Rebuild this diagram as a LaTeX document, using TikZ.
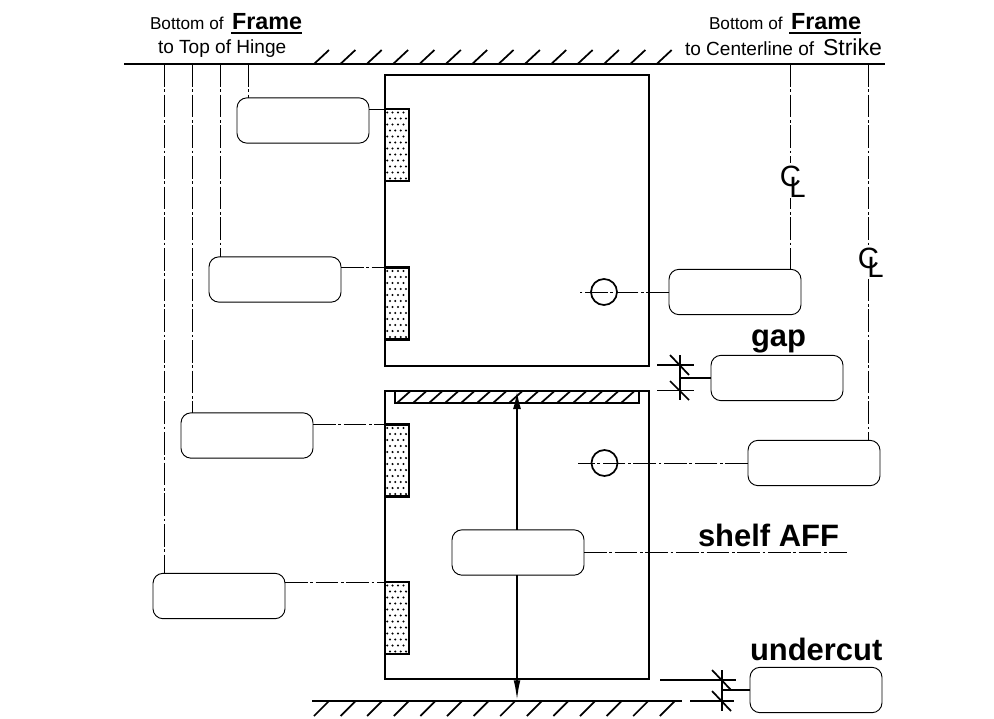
\documentclass[tikz,border=0pt]{standalone}
\usepackage{fontspec}
\setmainfont{Liberation Sans}
\usetikzlibrary{arrows.meta,calc}
\newcommand{\px}[1]{\fontsize{#1}{#1}\selectfont}
\tikzset{
  door/.style={draw=black,line width=1.9pt,fill=none,inner sep=0pt,outer sep=0pt,minimum width=198pt},
  hingebox/.style={draw=black,line width=1.6pt,inner sep=0pt,outer sep=0pt,minimum width=18pt,minimum height=54pt},
  tag/.style={draw=black,line width=0.7pt,rounded corners=7.5pt,inner sep=0pt,outer sep=0pt,fill=white,minimum width=99pt,minimum height=34pt},
  cl/.style={draw=black,line width=0.7pt,dash pattern=on 17pt off 2pt on 2pt off 2pt},
  thin line/.style={draw=black,line width=0.9pt},
  thick line/.style={draw=black,line width=1.6pt},
  hatch/.style={draw=black,line width=1.3pt},
  hole/.style={circle,draw=black,line width=1.3pt,minimum size=19.5pt,inner sep=0pt,outer sep=0pt},
  small/.style={inner sep=0pt,outer sep=0pt,anchor=base west,font=\px{14.3pt}},
  med/.style={inner sep=0pt,outer sep=0pt,anchor=base west,font=\px{12.9pt}},
  boldh/.style={inner sep=0pt,outer sep=0pt,anchor=base west,font=\px{17.5pt}\bfseries},
  big/.style={inner sep=0pt,outer sep=0pt,anchor=base west,font=\px{23.2pt}\bfseries},
  clmark/.style={inner sep=0pt,outer sep=0pt,font=\px{22pt}},
}
\begin{document}
\begin{tikzpicture}[x=0.75pt,y=-0.75pt]
\useasboundingbox[fill=white] (0,0) rectangle (994,718);

% ceiling and floor
\coordinate (topL) at (124,64); \coordinate (topR) at (885,64);
\draw[thick line] (topL) -- (topR);
\foreach \i in {0,...,13} \draw[hatch] ({314+\i*26.36},64) -- ++(15,-14);
\coordinate (floorL) at (312,701); \coordinate (floorR) at (682,701);
\draw[thick line] (floorL) -- (floorR);
\foreach \i in {0,...,13} \draw[hatch] ({329+\i*26.6},701) -- ++(-15,15);

% doors
\node[door,minimum height=218.25pt] (upper) at (517,220.5) {};
\node[door,minimum height=216pt] (lower) at (517,535) {};

% hinges
\foreach \n/\yc in {h1/145,h2/303.5,h3/460.5,h4/618}{
  \node[hingebox] (\n) at (397,\yc) {};
  \foreach \r in {0,...,11}{
    \pgfmathsetmacro{\off}{mod(\r,2)*2.7}
    \foreach \c in {0,1,2,3}{
      \fill[black] ({388.5+\c*5.4+\off-1.3},{\yc-32.5+\r*6}) circle (0.85pt);
    }
  }
}

% shelf
\node[draw=black,line width=1.6pt,inner sep=0pt,outer sep=0pt,minimum width=183pt,minimum height=9pt] (shelf) at (517,397) {};
\foreach \i in {0,...,14} \draw[hatch] ({397+\i*16},403) -- ++(13.5,-12);

% holes
\node[hole] (c1) at (604,292) {};
\node[hole] (c2) at (604.5,463) {};

% tags
\node[tag] (b1) at (303,120.5) {};
\node[tag] (b2) at (275,279.5) {};
\node[tag] (b3) at (247,435.5) {};
\node[tag] (b4) at (219,596) {};
\node[tag] (b5) at (735,292) {};
\node[tag] (b6) at (777,378) {};
\node[tag] (b7) at (814,463) {};
\node[tag] (b8) at (518,552.5) {};
\node[tag] (b9) at (816,690) {};

% centerlines from the frame line
\coordinate (v1) at (248.4,64); \coordinate (v2) at (220.4,64);
\coordinate (v3) at (192.4,64); \coordinate (v4) at (164.4,64);
\coordinate (v5) at (790.4,64); \coordinate (v6) at (868.4,64);
\draw[cl] (v1) -- (v1 |- b1.north);
\draw[cl] (v2) -- (v2 |- b2.north);
\draw[cl] (v3) -- (v3 |- b3.north);
\draw[cl] (v4) -- (v4 |- b4.north);
\draw[cl] (v5) -- (v5 |- b5.north);
\draw[cl] (v6) -- (v6 |- b7.north);

% leaders from tags to hinges
\draw[cl] (b1.east |- h1.north) -- (h1.north west);
\draw[cl] (b2.east |- h2.north) -- (h2.north west);
\draw[cl] (b3.east |- h3.north) -- (h3.north west);
\draw[cl] (b4.east |- h4.north) -- (h4.north west);

% leaders to holes
\coordinate (s1) at (579,292.4); \coordinate (s2) at (578,463.4);
\draw[cl] (b5.west |- s1) -- (s1);
\draw[cl] (b7.west |- s2) -- (s2);

% shelf height
\coordinate (sh) at (847,552.5);
\draw[cl] (b8.east) -- (sh);
\coordinate (ax) at (517,500);
\draw[line width=1.5pt,-{Latex[length=13.5pt,width=6pt]}] (b8.north -| ax) -- (shelf.north -| ax);
\draw[line width=1.5pt,-{Latex[length=15.5pt,width=5pt]}] (b8.south -| ax) -- (floorL -| ax);

% gap dimension
\coordinate (g1a) at (657,365); \coordinate (g1b) at (694,365);
\coordinate (g2a) at (657,390.5); \coordinate (g2b) at (694,390.5);
\coordinate (gt) at (680,355); \coordinate (gb) at (680,400);
\draw[thin line] (g1a) -- (g1b);
\draw[thin line] (g2a) -- (g2b);
\draw[thick line,line width=1.3pt] (gt) -- (gb);
\draw[thick line,line width=1.3pt] (670,355) -- (689,375);
\draw[thick line,line width=1.3pt] (670,381) -- (689,400);
\draw[thick line,line width=1.3pt] (b6.west) -- (b6.west -| gt);

% undercut dimension
\coordinate (u1a) at (660,680); \coordinate (u1b) at (736,680);
\coordinate (u2a) at (690,701); \coordinate (u2b) at (734,701);
\coordinate (ut) at (722,670); \coordinate (ub) at (722,711);
\draw[thin line] (u1a) -- (u1b);
\draw[thick line,line width=1.3pt] (u2a) -- (u2b);
\draw[thick line,line width=1.3pt] (ut) -- (ub);
\draw[thick line,line width=1.3pt] (712,670) -- (731,690);
\draw[thick line,line width=1.3pt] (712,691) -- (731,711);
\draw[thick line,line width=1.3pt] (b9.west) -- (b9.west -| ut);

% texts, left heading
\node[med] (t1) at (150,29) {Bottom of};
\node[boldh] (t2) at (232,29) {Frame};
\coordinate (ul1) at (231,33); \coordinate (ul2) at (302,33);
\draw[thick line,line width=1.3pt] (ul1) -- (ul2);
\node[small] (t3) at (158,53) {to Top of Hinge};
% right heading
\node[med] (t4) at (709,29) {Bottom of};
\node[boldh] (t5) at (791,29) {Frame};
\coordinate (ur1) at (789,33); \coordinate (ur2) at (861,33);
\draw[thick line,line width=1.3pt] (ur1) -- (ur2);
\node[small] (t6) at (685,55) {to Centerline of};
\node[small,font=\px{17.3pt}] (t7) at (823,55) {Strike};
% big labels
\node[big] (t8) at (751,346) {gap};
\node[big] (t9) at (698,546) {shelf AFF};
\node[big] (t10) at (750,660) {undercut};

% centerline marks
\fill[white] (786,163) rectangle (795,198);
\node[clmark] (m1) at (790.5,176.5) {C};
\node[clmark] (m1b) at (797.5,187) {L};
\fill[white] (864,246) rectangle (873,277);
\node[clmark] (m2) at (868.5,258) {C};
\node[clmark] (m2b) at (875.5,267) {L};
\end{tikzpicture}
\end{document}
